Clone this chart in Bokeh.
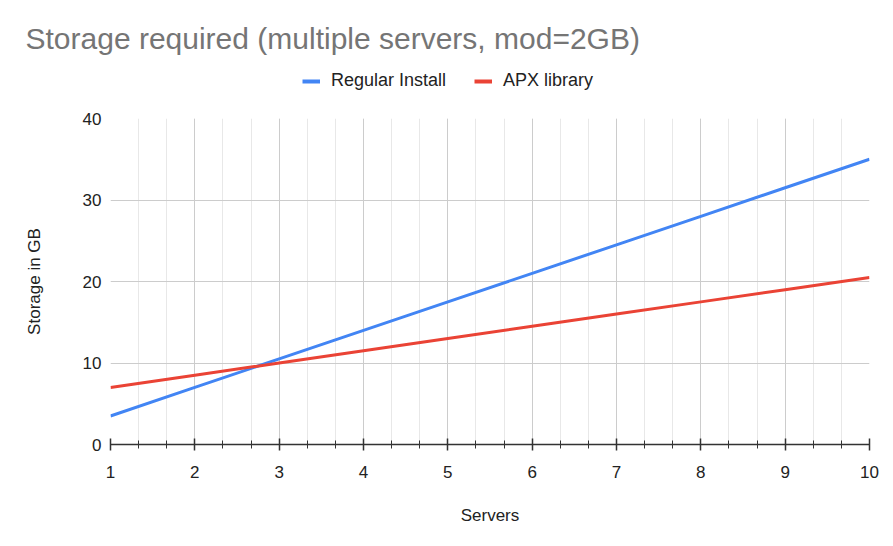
from bokeh.plotting import figure
from bokeh.layouts import column
from bokeh.models import (SingleIntervalTicker, FixedTicker, Legend, LegendItem, Title, Range1d)
from bokeh.embed import file_html
from bokeh.resources import INLINE

servers = [1, 2, 3, 4, 5, 6, 7, 8, 9, 10]
regular_install = [3.5, 7, 10.5, 14, 17.5, 21, 24.5, 28, 31.5, 35]
apx_library = [7, 8.5, 10, 11.5, 13, 14.5, 16, 17.5, 19, 20.5]
y_ticks = [0, 10, 20, 30, 40]
series_names = ["Regular Install", "APX library"]
chart_title = "Storage required (multiple servers, mod=2GB)"

FONT = "Liberation Sans"
BLUE = "#4285F4"
RED = "#EA4335"
TOP_H = 98

# ---- header: title + legend ----
head = figure(width=893, height=TOP_H, output_backend="svg", toolbar_location=None,
              x_axis_type=None, y_axis_type=None,
              x_range=Range1d(0, 1), y_range=Range1d(0, 1),
              min_border=0, min_border_top=59)
head.outline_line_color = None
head.border_fill_color = "white"
head.background_fill_color = "white"
head.title = Title(text=chart_title, align="left", offset=-85, standoff=10,
                   text_font=FONT, text_font_size="30px", text_font_style="normal",
                   text_color="#757575")

h1 = head.line([-5, -4], [-5, -5], line_color=BLUE, line_width=4)
h2 = head.line([-5, -4], [-5, -5], line_color=RED, line_width=4)
legend = Legend(items=[LegendItem(label=series_names[0], renderers=[h1]),
                       LegendItem(label=series_names[1], renderers=[h2])],
                orientation="horizontal", location=(192, TOP_H - 91),
                label_text_font=FONT, label_text_font_size="18px", label_text_color="#222222",
                glyph_width=18, glyph_height=20, label_standoff=11, spacing=28,
                padding=0, margin=0, border_line_color=None, background_fill_alpha=0)
head.add_layout(legend, "center")

# ---- main chart ----
p = figure(width=893, height=546 - TOP_H, output_backend="svg", toolbar_location=None,
           x_range=Range1d(1, 10), y_range=Range1d(0, 40),
           min_border_left=110, min_border_right=24, min_border_top=118 - TOP_H,
           min_border_bottom=102)
p.outline_line_color = None
p.background_fill_color = "white"
p.border_fill_color = "white"

p.line(servers, regular_install, line_color=BLUE, line_width=3)
p.line(servers, apx_library, line_color=RED, line_width=3)

xa = p.xaxis[0]
xa.ticker = SingleIntervalTicker(interval=1, num_minor_ticks=3)
xa.axis_line_color = "#333333"
xa.axis_line_width = 1.5
xa.major_tick_line_color = "#333333"
xa.major_tick_line_width = 1.5
xa.major_tick_in = 6
xa.major_tick_out = 6
xa.minor_tick_line_color = "#333333"
xa.minor_tick_line_width = 1
xa.minor_tick_in = 4
xa.minor_tick_out = 4
xa.major_label_text_font = FONT
xa.major_label_text_font_size = "17px"
xa.major_label_text_color = "#222222"
xa.major_label_standoff = 15
xa.axis_label = "Servers"
xa.axis_label_text_font = FONT
xa.axis_label_text_font_size = "17px"
xa.axis_label_text_font_style = "normal"
xa.axis_label_text_color = "#222222"
xa.axis_label_standoff = 25

ya = p.yaxis[0]
ya.ticker = FixedTicker(ticks=y_ticks)
ya.axis_line_color = None
ya.major_tick_line_color = None
ya.minor_tick_line_color = None
ya.major_tick_out = 0
ya.major_tick_in = 0
ya.major_label_text_font = FONT
ya.major_label_text_font_size = "17px"
ya.major_label_text_color = "#222222"
ya.major_label_standoff = 9
ya.axis_label = "Storage in GB"
ya.axis_label_text_font = FONT
ya.axis_label_text_font_size = "17px"
ya.axis_label_text_font_style = "normal"
ya.axis_label_text_color = "#222222"
ya.axis_label_standoff = 36

p.xgrid.grid_line_color = "#cccccc"
p.xgrid.grid_line_width = 1
p.xgrid.minor_grid_line_color = "#e8e8e8"
p.xgrid.minor_grid_line_width = 1
p.ygrid.ticker = FixedTicker(ticks=y_ticks)
p.ygrid.grid_line_color = "#cccccc"
p.ygrid.grid_line_width = 1

layout = column(head, p, spacing=0)
open("out.html", "w").write(file_html(layout, INLINE))
